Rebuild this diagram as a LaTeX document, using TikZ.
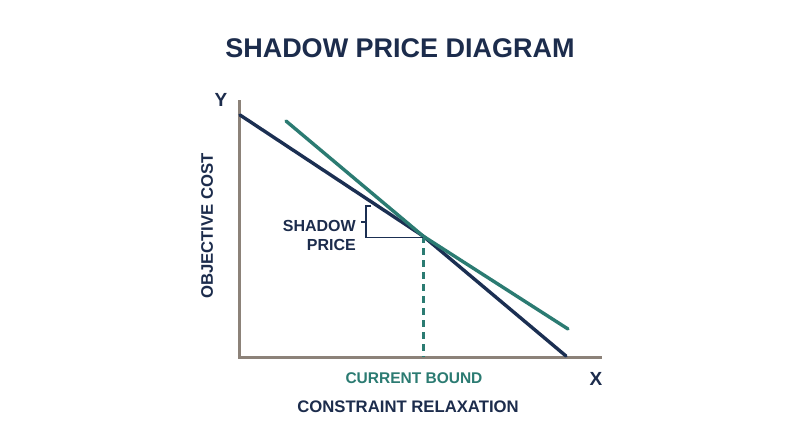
\documentclass[tikz,border=0pt]{standalone}
\usepackage{fontspec}
\setmainfont{Liberation Sans}
\definecolor{navy}{HTML}{1B2F52}
\definecolor{teal2}{HTML}{2B7B72}
\definecolor{axisgray}{HTML}{8C8279}
\definecolor{txt}{HTML}{1C2C4C}
\begin{document}
\begin{tikzpicture}[x=1pt,y=-1pt,
  lbl/.style={font=\bfseries, text=txt, inner sep=0pt},
  axisline/.style={draw=axisgray, line width=3pt},
  curve/.style={line width=3.4pt, line cap=round}]
\useasboundingbox[fill=white] (0,0) rectangle (800,447);
\node[lbl, font=\fontsize{27}{32}\bfseries\selectfont] (title) at (400,48) {SHADOW PRICE DIAGRAM};
% axes
\coordinate (O) at (239,357);
\coordinate (Ytop) at (239,100);
\coordinate (Xend) at (602,357);
\draw[axisline] (Ytop) -- (O) -- (Xend);
\node[lbl, font=\fontsize{19}{22}\bfseries\selectfont] (ylab) at (221,100) {Y};
\node[lbl, font=\fontsize{19}{22}\bfseries\selectfont] (xlab) at (596,379) {X};
\node[lbl, font=\fontsize{16.7}{20}\bfseries\selectfont, rotate=90] (ycap) at (207,226) {OBJECTIVE COST};
\node[lbl, font=\fontsize{16.7}{20}\bfseries\selectfont] (xcap) at (408,407) {CONSTRAINT RELAXATION};
% intersection
\coordinate (P) at (423,236);
\coordinate (Pb) at (423,357);
% curves
\coordinate (n1) at (240,115);
\coordinate (n2) at (566,356);
\coordinate (t1) at (286,121);
\coordinate (t2) at (568,329);
\draw[curve, draw=navy] (n1) -- (P) -- (n2);
\draw[curve, draw=teal2] (t1) -- (P) -- (t2);
% dashed
\draw[teal2, line width=3pt, dash pattern=on 7pt off 5pt] (P) -- (Pb);
% bracket
\coordinate (b1) at (366,206);
\coordinate (b2) at (366,237.5);
\draw[navy, line width=1.6pt] (371,206) -- (b1) -- (b2) -- (P |- b2);
\draw[navy, line width=1.6pt] (366,222) -- (361,222);
\node[lbl, font=\fontsize{16}{19}\bfseries\selectfont, anchor=east, align=right] (sp) at (356,235) {SHADOW\\PRICE};
\node[lbl, font=\fontsize{15.5}{18}\bfseries\selectfont, text=teal2] (cb) at (414,378) {CURRENT BOUND};
\end{tikzpicture}
\end{document}
